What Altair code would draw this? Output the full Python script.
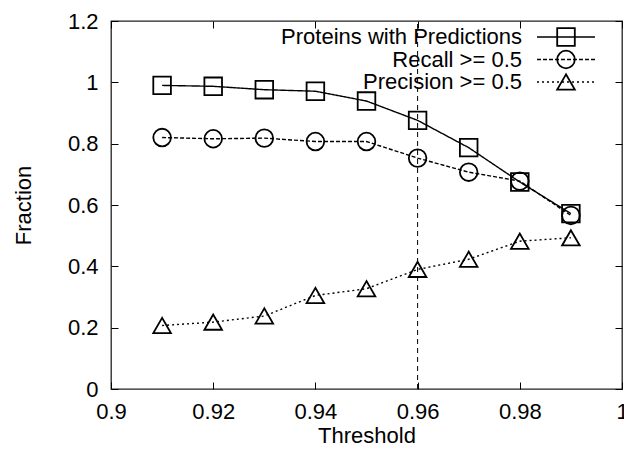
import altair as alt
import pandas as pd

# ---- data ----
thresholds = [0.91, 0.92, 0.93, 0.94, 0.95, 0.96, 0.97, 0.98, 0.99]
proteins = [0.990, 0.987, 0.976, 0.971, 0.939, 0.876, 0.787, 0.675, 0.572]
recall = [0.820, 0.816, 0.818, 0.807, 0.807, 0.753, 0.707, 0.678, 0.566]
precision = [0.207, 0.218, 0.238, 0.305, 0.327, 0.390, 0.423, 0.482, 0.493]
series_names = ["Proteins with Predictions", "Recall >= 0.5", "Precision >= 0.5"]
x_ticks = [0.9, 0.92, 0.94, 0.96, 0.98, 1.0]
y_ticks = [0, 0.2, 0.4, 0.6, 0.8, 1.0, 1.2]
vline_x = [0.96]
x_domain = [0.9, 1.0]
y_domain = [0, 1.2]

W, H = 511, 368
FONT = "Liberation Sans"
FS = 22

rows = []
for name, vals in zip(series_names, [proteins, recall, precision]):
    for t, v in zip(thresholds, vals):
        rows.append({"threshold": t, "value": v, "series": name})
df = pd.DataFrame(rows)
vdf = pd.DataFrame({"x": vline_x, "y0": [y_domain[0]], "y1": [y_domain[1]]})

xs = alt.Scale(domain=x_domain, nice=False, zero=False)
ys = alt.Scale(domain=y_domain, nice=False)
dash_scale = alt.Scale(domain=series_names, range=[[1, 0], [4, 2], [2, 3]])
shape_scale = alt.Scale(domain=series_names, range=["square", "circle", "triangle-up"])

main_x = alt.Axis(orient="bottom", values=x_ticks, format="~g", ticks=False, tickSize=0,
                  domain=False, grid=False, labelPadding=12, labelFontSize=FS,
                  labelFont=FONT, labelColor="black", title="Threshold", titleFont=FONT,
                  titleFontSize=FS, titleFontWeight="normal", titleColor="black",
                  titlePadding=3, labelOverlap=False, labelFlush=False)
main_y = alt.Axis(orient="left", values=y_ticks, format="~g", ticks=False, tickSize=0,
                  domain=False, grid=False, labelPadding=13, labelFontSize=FS,
                  labelFont=FONT, labelColor="black", title="Fraction", titleFont=FONT,
                  titleFontSize=FS, titleFontWeight="normal", titleColor="black",
                  titlePadding=32, labelOverlap=False, labelFlush=False)


def tick_axis(orient, values, offset):
    return alt.Axis(orient=orient, values=values, labels=False, domain=False, grid=False,
                    ticks=True, tickSize=7, tickColor="black", tickWidth=1,
                    title=None, offset=offset)


lines = alt.Chart(df).mark_line(color="black", strokeWidth=1.4).encode(
    x=alt.X("threshold:Q", scale=xs, axis=main_x),
    y=alt.Y("value:Q", scale=ys, axis=main_y),
    strokeDash=alt.StrokeDash("series:N", scale=dash_scale, legend=None),
    detail="series:N",
)

points = alt.Chart(df).mark_point(filled=False, size=310, color="black", strokeWidth=1.8,
                                  opacity=1).encode(
    x=alt.X("threshold:Q", scale=xs, axis=tick_axis("top", x_ticks, -H)),
    y=alt.Y("value:Q", scale=ys, axis=tick_axis("right", y_ticks, -W)),
    shape=alt.Shape("series:N", scale=shape_scale, legend=None),
)

vline = alt.Chart(vdf).mark_rule(color="black", strokeWidth=1, strokeDash=[5, 4]).encode(
    x=alt.X("x:Q", scale=xs, axis=tick_axis("bottom", x_ticks, -H)),
    y=alt.Y("y0:Q", scale=ys, axis=tick_axis("left", y_ticks, -W)),
    y2="y1:Q",
)

# ---- legend (label left, sample right) ----
legend_layers = []
leg_y = [37, 59.5, 82]
dashes = [[1, 0], [4, 2], [2, 3]]
shapes = ["square", "circle", "triangle-up"]
for i, name in enumerate(series_names):
    ldf = pd.DataFrame({"label": [name]})
    base = alt.Chart(ldf)
    yv = leg_y[i] - 21
    legend_layers.append(
        base.mark_text(align="right", baseline="middle", font=FONT, fontSize=FS, color="black").encode(
            x=alt.value(522 - 111), y=alt.value(yv), text="label:N"))
    legend_layers.append(
        base.mark_rule(color="black", strokeWidth=1.4, strokeDash=dashes[i]).encode(
            x=alt.value(537 - 111), x2=alt.value(595 - 111), y=alt.value(yv)))
    legend_layers.append(
        base.mark_point(filled=False, size=310, color="black", strokeWidth=1.8, opacity=1,
                        shape=shapes[i]).encode(
            x=alt.value(566 - 111), y=alt.value(yv)))

chart = alt.layer(lines, points, vline, *legend_layers).resolve_axis(
    x="independent", y="independent"
).properties(
    width=W, height=H,
    autosize=alt.AutoSizeParams(type="none"),
    padding={"left": 111, "top": 21, "right": 2, "bottom": 65},
    background="white",
).configure_view(stroke="#222222", strokeWidth=1.3)

chart.save("out.html", embed_options={"renderer": "svg", "actions": False})
